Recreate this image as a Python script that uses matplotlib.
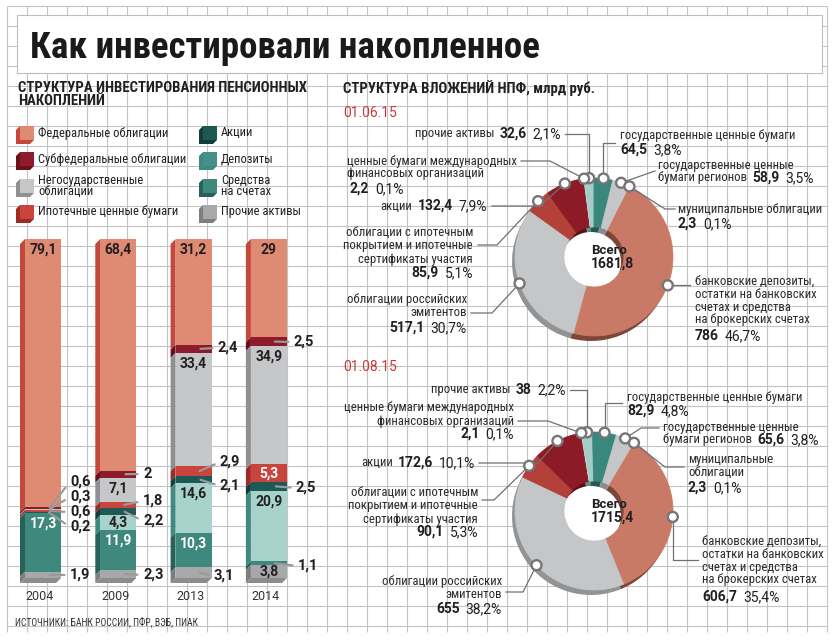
import matplotlib
matplotlib.use("Agg")
import matplotlib.pyplot as plt
from matplotlib import font_manager as fm
from matplotlib.patches import Polygon, Rectangle, Circle
import numpy as np

W, H = 836, 640

# ---------------- data ----------------
years = ["2004", "2009", "2013", "2014"]
bar_cats = ["Федеральные облигации", "Субфедеральные облигации",
            "Негосударственные\nоблигации", "Ипотечные ценные бумаги",
            "Акции", "Депозиты", "Средства\nна счетах", "Прочие активы"]
fed = [79.1, 68.4, 31.2, 29.0]
subfed = [0.6, 2.0, 2.4, 2.5]
nongov = [0.3, 7.1, 33.4, 34.9]
mortgage = [0.6, 1.8, 2.9, 5.3]
stocks = [0.2, 2.2, 2.1, 2.5]
deposits = [0.0, 4.3, 14.6, 20.9]
accounts = [17.3, 11.9, 10.3, 1.1]
other = [1.9, 2.3, 3.1, 3.8]

pie_cats = ["прочие активы", "государственные ценные бумаги",
            "государственные ценные бумаги регионов", "муниципальные облигации",
            "банковские депозиты, остатки на банковских счетах и средства на брокерских счетах",
            "облигации российских эмитентов",
            "облигации с ипотечным покрытием и ипотечные сертификаты участия",
            "акции", "ценные бумаги международных финансовых организаций"]
npf_jun = [32.6, 64.5, 58.9, 2.3, 786.0, 517.1, 85.9, 132.4, 2.2]
npf_jun_pct = [2.1, 3.8, 3.5, 0.1, 46.7, 30.7, 5.1, 7.9, 0.1]
npf_aug = [38.0, 82.9, 65.6, 2.3, 606.7, 655.0, 90.1, 172.6, 2.1]
npf_aug_pct = [2.2, 4.8, 3.8, 0.1, 35.4, 38.2, 5.3, 10.1, 0.1]
total_jun = 1681.8
total_aug = 1715.4

# ---------------- styles ----------------
INK = "#231f20"
GRID = "#c4c4c4"
bar_face = ["#df8a73", "#8d1b2b", "#c6c7c9", "#c9443d", "#1e5a55", "#a8d3cc", "#3e887e", "#a7a8aa"]
bar_side = ["#c4473c", "#6a0f1c", "#8f9092", "#9c2a25", "#123d3a", "#3f8a80", "#27625a", "#7d7e80"]
legend_face = ["#df8a73", "#8d1b2b", "#c6c7c9", "#c9443d", "#1e5a55", "#45918a", "#3e887e", "#a7a8aa"]
pie_face = ["#a3cdc6", "#3a877d", "#c5c6c8", "#d0d1d3", "#c87a67", "#c5c6c8", "#b3413a", "#8c1a27", "#b9cfcc"]
pie_shade = ["#5e8f88", "#245853", "#8a8b8d", "#8a8b8d", "#7c4639", "#929395", "#7a2722", "#5a0f18", "#7a908d"]

names = {f.name for f in fm.fontManager.ttflist}


def pick(*cands):
    for c in cands:
        if c in names:
            return c
    return "DejaVu Sans"


BODY = pick("Roboto", "DejaVu Sans")
BOLD = pick("Roboto", "DejaVu Sans")
COND = pick("Roboto Condensed", "Liberation Sans Narrow", "DejaVu Sans Condensed", "Roboto")


def fmt(v):
    return f"{v:g}".replace(".", ",")


fig = plt.figure(figsize=(W / 100, H / 100), dpi=100)
fig.patch.set_facecolor("white")
R = fig.canvas.get_renderer()


def px_axes(z):
    a = fig.add_axes([0, 0, 1, 1], zorder=z)
    a.set_xlim(0, W)
    a.set_ylim(H, 0)
    a.set_axis_off()
    return a


base = px_axes(0)
ov = px_axes(3)

# grid paper + title box
base.vlines(np.arange(7, 828, 20), 6, 632, color=GRID, lw=0.8)
base.hlines(np.arange(6, 633, 20), 7, 827, color=GRID, lw=0.8)
base.add_patch(Rectangle((17, 15), 805, 58, fc="white", ec="#bdbdbd", lw=0.8, zorder=3))


def txt(x, y, s, size=9, bold=False, ha="left", va="center", color=INK, family=None, weight=None, **kw):
    return ov.text(x, y, s, fontsize=size, fontweight=weight or ("bold" if bold else "normal"),
                   ha=ha, va=va, color=color, family=family or BODY, **kw)


def fit(t, width):
    w = t.get_window_extent(R).width
    t.set_fontsize(t.get_fontsize() * width / w)
    return t.get_fontsize()


def size_for(s, width, family, weight="normal"):
    t = ov.text(0, 0, s, fontsize=10, family=family, fontweight=weight)
    w = t.get_window_extent(R).width
    t.remove()
    return 10 * width / w


LAB = size_for("государственные ценные бумаги", 176, COND)
LEG = size_for("Субфедеральные облигации", 147, COND)

t = txt(30, 48, "Как инвестировали накопленное", size=26, bold=True, family=COND, color="#1a1a1a")
fit(t, 510)
t = txt(18, 88, "СТРУКТУРА ИНВЕСТИРОВАНИЯ ПЕНСИОННЫХ", size=10, family=COND, weight="semibold")
hs = fit(t, 288)
txt(18, 101, "НАКОПЛЕНИЙ", size=hs, family=COND, weight="semibold")
txt(343, 88, "СТРУКТУРА ВЛОЖЕНИЙ НПФ, млрд руб.", size=hs, family=COND, weight="semibold")
txt(343, 113, "01.06.15", size=10, color="#c8393a")
txt(343, 367, "01.08.15", size=10, color="#c8393a")
t = txt(15, 622, "ИСТОЧНИКИ: БАНК РОССИИ, ПФР, ВЭБ, ПИАК", size=7, family=COND, color="#333333")
fit(t, 182)

# ---------------- legend ----------------
leg_rows = [133, 159, 186, 212]
leg_cols = [20, 203]
for k, (lab, col, side) in enumerate(zip(bar_cats, legend_face, bar_side)):
    x = leg_cols[k // 4]
    yc = leg_rows[k % 4]
    ov.add_patch(Polygon([(x, yc - 7), (x - 4, yc - 3), (x - 4, yc + 11), (x + 10, yc + 11),
                          (x + 14, yc + 7), (x, yc + 7)], closed=True, fc=side, lw=0))
    ov.add_patch(Rectangle((x, yc - 7), 14, 14, fc=col, lw=0))
    txt(x + 18, yc, lab, size=LEG, family=COND, linespacing=0.85)

# ---------------- stacked bars ----------------
bx = fig.add_axes([0, 1 - 578 / H, 330 / W, (578 - 239) / H], zorder=1)
pitch = 75.3
bx.set_xlim(-43 / pitch, (330 - 43) / pitch)
bx.set_ylim(100, 0)
bx.set_axis_off()
ux, uy = 1 / pitch, 100 / 339
dx, dy = 5 * ux, 5 * uy
bw = 36 * ux

series = [fed, subfed, nongov, mortgage, stocks, deposits, accounts, other]
xs = np.arange(len(years))
bottom = np.zeros(len(years))
white_text = {3, 6}
# outside label positions (px) keyed by (year, category)
outside = {(0, 1): (70, 482), (0, 2): (70, 497), (0, 3): (70, 512), (0, 4): (70, 527), (0, 7): (70, 575),
           (1, 1): (143, 474), (1, 3): (143, 501), (1, 4): (143, 521), (1, 7): (143, 575),
           (2, 1): (218, 348), (2, 3): (220, 462), (2, 4): (220, 486), (2, 7): (214, 576),
           (3, 1): (294, 342), (3, 4): (296, 488), (3, 6): (298, 566)}
for c, (vals, face, side) in enumerate(zip(series, bar_face, bar_side)):
    vals = np.asarray(vals, float)
    bx.bar(xs, vals, bottom=bottom, width=bw, color=face, lw=0, zorder=3)
    for i in range(len(years)):
        v = vals[i]
        if v <= 0:
            continue
        y0, y1 = bottom[i], bottom[i] + v
        xl = xs[i] - bw / 2
        bx.add_patch(Polygon([(xl, y0), (xl - dx, y0 + dy), (xl - dx, y1 + dy), (xl, y1)],
                             closed=True, fc=side, lw=0, zorder=2, clip_on=False))
        if v >= 3.5:
            bx.text(xs[i], y0 + min(v / 2, 3.2), fmt(v), ha="center", va="center", fontsize=10,
                    fontweight="bold", family=BOLD, color="white" if c in white_text else INK, zorder=5)
        elif (i, c) in outside:
            bx.annotate(fmt(v), xy=(xl + 24 * ux, y0 + v / 2), xycoords="data",
                        xytext=outside[(i, c)], textcoords=ov.transData, ha="left", va="center",
                        fontsize=10.5, fontweight="bold", family=BOLD, color=INK, annotation_clip=False,
                        arrowprops=dict(arrowstyle="-", color="#9a9a9a", lw=1.6, linestyle=(0, (0.6, 0.6)),
                                        shrinkA=2, shrinkB=0, relpos=(0, 0.5)), zorder=6)
    bottom += vals
for i in range(len(years)):
    xl, xr = xs[i] - bw / 2, xs[i] + bw / 2
    yb = bottom[i]
    bx.add_patch(Polygon([(xl, yb), (xr, yb), (xr - dx, yb + dy), (xl - dx, yb + dy)],
                         closed=True, fc="#8b8c8e", lw=0, zorder=2, clip_on=False))
    bx.text(xs[i] - 3 * ux, yb + 19 * uy, years[i], ha="center", va="center", fontsize=9,
            family=BODY, color="#333333", clip_on=False)

# ---------------- donuts ----------------
R_OUT, R_IN = 79, 30


def donut(cx, cy, vals, start, total):
    ax = fig.add_axes([(cx - 100) / W, 1 - (cy + 100) / H, 200 / W, 200 / H], zorder=1)
    kw = dict(startangle=90 - start, counterclock=False, radius=R_OUT)
    ax.add_patch(Circle((0, 0), R_IN + 2, fc="white", lw=0, zorder=0))
    ax.pie(vals, colors=pie_shade, center=(-3, -5), wedgeprops=dict(width=R_OUT - R_IN, lw=0), **kw)
    front, _ = ax.pie(vals, colors=pie_face, wedgeprops=dict(width=R_OUT - R_IN, lw=0.5), **kw)
    for w in front:
        w.set_edgecolor(w.get_facecolor())
    ax.set_xlim(-100, 100)
    ax.set_ylim(-100, 100)
    ax.set_axis_off()
    txt(cx - 3, cy - 6, "Всего", size=9.5, bold=True, family=BOLD)
    txt(cx - 3, cy + 7, fmt(total), size=10, bold=True, family=BOLD)
    frac = np.concatenate([[0], np.cumsum(vals)]) / np.sum(vals)
    mids = np.radians(start + 360 * (frac[:-1] + frac[1:]) / 2)
    return cx + R_OUT * np.sin(mids), cy - R_OUT * np.cos(mids)


def value_line(x, y, head, value, pct, ha):
    parts = ([(head, "lab", 5)] if head else []) + [(value, "val", 6), (pct, "pct", 0)]
    style = {"lab": (LAB, "normal", COND), "val": (10, "bold", BOLD), "pct": (10, "normal", BODY)}
    arts = []
    for s, kind, _ in parts:
        size, weight, family = style[kind]
        arts.append(txt(0, y, s, size=size, weight=weight, family=family,
                        color="#2b2b2b" if kind == "lab" else INK))
    widths = [a.get_window_extent(R).width for a in arts]
    total = sum(widths) + sum(g for _, _, g in parts)
    cur = x - total if ha == "right" else x
    for a, w, (_, _, g) in zip(arts, widths, parts):
        a.set_x(cur)
        cur += w + g


def split(label, words):
    ws = label.split()
    out, k = [], 0
    for n in words:
        out.append(" ".join(ws[k:k + n]))
        k += n
    return out


# layout: words per line, x, first-line y, ha, value position (None = inline), leader elbows
lay_jun = [
    ([2], 561, 134, "right", None, [(565, 134), (None, 134)]),
    ([3], 620, 135, "left", (620, 150), [(615, 143), (None, 143)]),
    ([2, 2], 658, 165, "left", None, [(655, 171)]),
    ([2], 678, 209, "left", (678, 224), [(675, 209), (665, 209)]),
    ([2, 3, 3, 3], 695, 281, "left", (695, 336), [(690, None)]),
    ([2, 1], 467, 300, "right", (467, 328), [(471, 313), (492, 313)]),
    ([3, 3, 2], 473, 233, "right", (473, 273), [(478, 245), (497, 245)]),
    ([1], 487, 206, "right", None, [(492, 206), (540, 206)]),
    ([3, 2], 347, 161, "left", (350, 189), [(521, 161), (550, 161)]),
]
lay_aug = [
    ([2], 566, 390, "right", None, [(570, 390), (None, 390)]),
    ([3], 627, 397, "left", (627, 411), [(622, 403), (None, 403)]),
    ([2, 2], 663, 427, "left", None, [(659, 428), (641, 428)]),
    ([1, 1], 688, 460, "left", (688, 488), [(684, 467), (665, 467)]),
    ([2, 3, 3, 3], 702, 541, "left", (702, 597), [(698, 560), (None, 560)]),
    ([2, 1], 502, 582, "right", (502, 609), [(506, 592), (523, 592)]),
    ([3, 3, 2], 478, 493, "right", (478, 532), [(482, 500), (494, 500)]),
    ([1], 475, 463, "right", None, [(479, 463), (538, 463)]),
    ([3, 2], 514, 408, "right", (514, 434), [(518, 421), (548, 421)]),
]

for (cx, cy, start, vals, pcts, total, lay) in [
        (594, 257, -7, npf_jun, npf_jun_pct, total_jun, lay_jun),
        (594, 511, -9, npf_aug, npf_aug_pct, total_aug, lay_aug)]:
    mx, my = donut(cx, cy, vals, start, total)
    for k, (words, x, y, ha, vpos, elbows) in enumerate(lay):
        lines = split(pie_cats[k], words)
        vstr, pstr = fmt(vals[k]), fmt(pcts[k]) + "%"
        for j, ln in enumerate(lines):
            yy = y + 13 * j
            if vpos is None and j == len(lines) - 1:
                value_line(x, yy, ln, vstr, pstr, ha)
            else:
                txt(x, yy, ln, size=LAB, ha=ha, family=COND, color="#2b2b2b")
        if vpos is not None:
            value_line(vpos[0], vpos[1], "", vstr, pstr, ha)
        pts = [(mx[k] if px is None else px, my[k] if py is None else py) for px, py in elbows]
        pts.append((mx[k], my[k]))
        ov.plot([p[0] for p in pts], [p[1] for p in pts], color="#707070", lw=0.9, zorder=4)
        ov.add_patch(Circle((mx[k], my[k]), 5, fc="white", ec="#767676", lw=1.7, zorder=5))

fig.savefig("out.png", dpi=100, facecolor="white")
